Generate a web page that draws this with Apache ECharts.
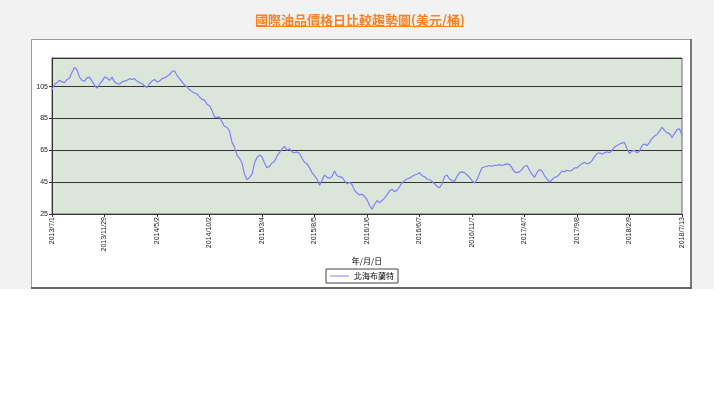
<!DOCTYPE html>
<html>
<head>
<meta charset="utf-8">
<script src="https://cdn.jsdelivr.net/npm/echarts@6/dist/echarts.min.js"></script>
<style>
html,body{margin:0;padding:0;background:#ffffff;}
#chart{width:720px;height:405px;}
</style>
</head>
<body>
<div id="chart"></div>
<script>
// Tick labels on the category axis (one every 21 points)
const tickLabels = ['2013/7/1','2013/11/29','2014/5/2','2014/10/2','2015/3/4','2015/8/5','2016/1/6','2016/6/7','2016/11/7','2017/4/7','2017/9/8','2018/2/9','2018/7/13'];
const seriesName = '北海布蘭特';
// Brent price (USD/bbl) (approx. weekly samples)
const brent = [
  103,106.5,107.5,109,108,107.5,109.5,110.5,114,117,115.5,111,109,108.5,110.5,111,108.5,106,104,106.5,108.5,
  111,110.5,109,111,108,107,106.5,108,108.5,109,110,109.5,110,108.5,107.5,107,105.5,104.5,107,108.5,109.5,
  108,108.5,110,110.5,111.5,112.5,114.5,115,112,110,108,106,105,103,102,101,100.5,98.5,97,96.5,94,
  93,90,86,85.5,86,83,80,79.5,77,70,67,62,60,57,50,46.5,48,50,57,60.5,62,
  61,57,54,55,57,58,61.5,63.5,66,67.5,65,66,64,63.5,64,63,60,57.5,56.5,54,51,
  49,47,43,46,49.5,48,47.5,48.5,52,49,48.5,48,46,44,45,43.5,40,38,37,37.5,36,
  34,30.5,28,31,33.5,32,33.5,35,37,39.5,40.5,39,40,42,44.5,46,47,47.5,48.5,49.5,50,
  51,49,48.5,47,46.5,45.5,44,42.5,41.5,44,48.5,49.5,47,46,45.5,48.5,51,51.5,51,49.5,48,
  46,44.5,46.5,50.5,54,54.5,55,55.5,55,55.5,55.5,56,55.5,56,56.5,56,54,51.5,51,51.5,53,
  55,55.5,52.5,50,48,51,53,52,49,47,45,46.5,48,48.5,50,52,51.5,52.5,52,52.5,54,
  54,55.5,56.5,57.5,56.5,57,58.5,61,63,63.5,62.5,63.5,64,63.5,65,67,68,69,69.5,70,66,
  63,64.5,65,63.5,64.5,68,69,68,70,72.5,74,75,77,79.5,77.5,76,75.5,73,75.5,78,78.5,74.5
];
const yTicks = {min: 25, max: 123, step: 20};
const titleText = '國際油品價格日比較趨勢圖(美元/桶)';
const axisName = '年/月/日';

const categories = brent.map((_, i) => String(i));
const labelStep = 21;

const chart = echarts.init(document.getElementById('chart'), null, {renderer: 'canvas'});
const option = {
  animation: false,
  backgroundColor: '#ffffff',
  textStyle: {fontFamily: 'Liberation Sans, Arial, sans-serif'},
  graphic: [
    {type: 'rect', z: -20, silent: true, shape: {x: 0, y: 0, width: 714, height: 289}, style: {fill: '#f2f2f2'}},
    {type: 'rect', z: -15, silent: true, shape: {x: 31.5, y: 39.5, width: 659, height: 248}, style: {fill: '#ffffff', stroke: '#9a9a9a', lineWidth: 1}},
    {type: 'line', z: -14, silent: true, shape: {x1: 691, y1: 39, x2: 691, y2: 289}, style: {stroke: '#777777', lineWidth: 2}},
    {type: 'line', z: -14, silent: true, shape: {x1: 31, y1: 288, x2: 692, y2: 288}, style: {stroke: '#666666', lineWidth: 2}},
    {type: 'rect', z: 100, silent: true, shape: {x: 257, y: 26, width: 207, height: 1}, style: {fill: '#ff8020'}}
  ],
  title: {
    text: titleText,
    left: 'center',
    top: 9,
    textStyle: {color: '#ff8020', fontSize: 13, fontWeight: 'bold', fontFamily: 'Noto Sans CJK TC, sans-serif'}
  },
  legend: {
    left: 326,
    top: 269,
    padding: [3, 4, 3, 4],
    itemWidth: 19,
    itemHeight: 1,
    itemGap: 4,
    borderColor: '#444444',
    borderWidth: 1,
    backgroundColor: '#ffffff',
    data: [{name: seriesName, icon: 'rect'}],
    textStyle: {fontSize: 8, color: '#000000', fontFamily: 'Noto Sans CJK TC, sans-serif', padding: [0, 0, 0, 0]}
  },
  grid: {
    left: 52, right: 38, top: 58, bottom: 191,
    show: true,
    backgroundColor: '#dbe5d9',
    borderColor: '#666666',
    borderWidth: 1
  },
  xAxis: {
    type: 'category',
    data: categories,
    boundaryGap: false,
    name: axisName,
    nameLocation: 'middle',
    nameGap: 43,
    nameTextStyle: {fontSize: 8, color: '#000000', fontFamily: 'Noto Sans CJK TC, sans-serif'},
    axisLine: {show: true, lineStyle: {color: '#333333', width: 1}},
    axisTick: {show: true, interval: labelStep - 1, length: 3, lineStyle: {color: '#333333'}},
    axisLabel: {
      interval: labelStep - 1,
      rotate: 90,
      fontSize: 7,
      color: '#222222',
      margin: 3,
      formatter: function (v, idx) { return idx % labelStep === 0 ? tickLabels[idx / labelStep] : ''; }
    },
    splitLine: {show: false}
  },
  yAxis: {
    type: 'value',
    min: yTicks.min,
    max: yTicks.max,
    interval: yTicks.step,
    axisLine: {show: true, lineStyle: {color: '#333333', width: 1}},
    axisTick: {show: true, length: 3, lineStyle: {color: '#333333'}},
    axisLabel: {fontSize: 7, color: '#222222', margin: 4, showMaxLabel: false},
    splitLine: {show: true, lineStyle: {color: '#333333', width: 1}}
  },
  series: [{
    name: seriesName,
    type: 'line',
    data: brent,
    showSymbol: false,
    symbol: 'none',
    lineStyle: {color: '#8080ff', width: 1.2},
    itemStyle: {color: '#8080ff'}
  }]
};
chart.setOption(option);
</script>
</body>
</html>
